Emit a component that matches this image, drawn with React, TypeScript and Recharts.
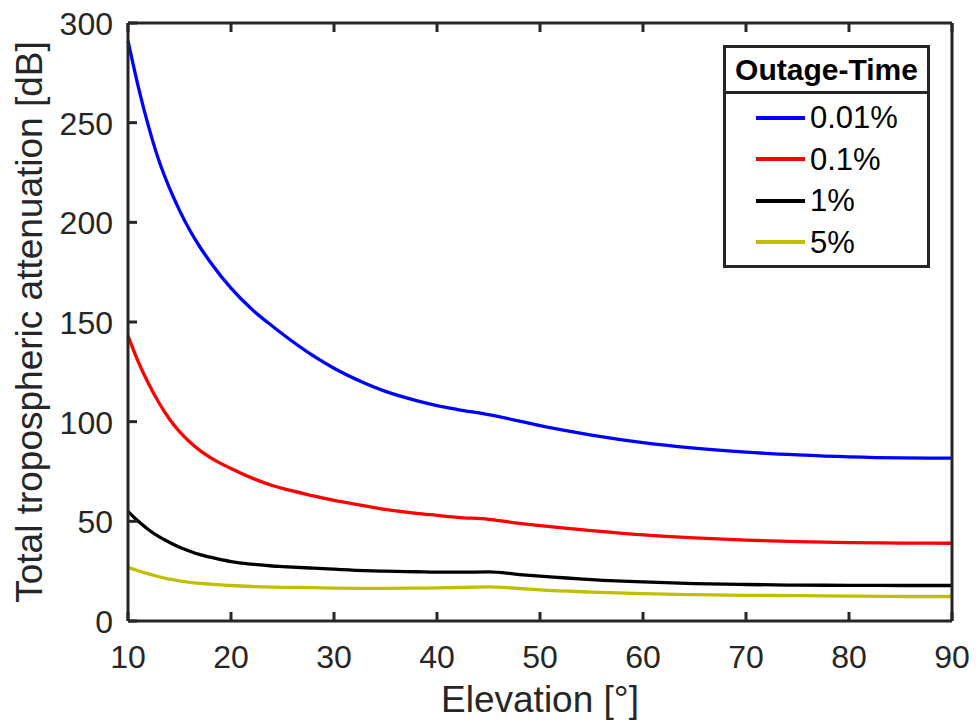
import { LineChart, Line, XAxis, YAxis, Legend } from 'recharts'

const FONT = '"Liberation Sans", Arial, Helvetica, sans-serif'
const AXIS = '#262626'

// elevation angles [deg]
const elevation = [10, 11, 12, 13, 14, 15, 16, 17, 18, 20, 22, 24, 25, 28, 30, 33, 35, 38, 40, 42, 45, 48, 50, 55, 60, 65, 70, 75, 80, 85, 90]

// total tropospheric attenuation [dB] per outage time
const outage001 = [291, 268, 248, 231, 217.5, 206, 196, 187.5, 180, 167, 156.5, 148, 144, 133, 126.8, 119.3, 115.2, 110.6, 108.1, 106.1, 103.5, 100.3, 98, 93.3, 89.5, 86.7, 84.7, 83.3, 82.3, 81.8, 81.7]
const outage01 = [143, 130, 119, 109.5, 101.5, 95, 89.8, 85.5, 82, 76.5, 71.8, 68, 66.5, 62.8, 60.5, 57.8, 56, 54, 53, 52, 51, 49, 47.8, 45.3, 43.2, 41.7, 40.6, 39.8, 39.3, 39.1, 39]
const outage1 = [55, 50, 45.8, 42.3, 39.5, 37, 35, 33.3, 32, 29.8, 28.5, 27.6, 27.3, 26.5, 26, 25.3, 25, 24.7, 24.5, 24.5, 24.6, 23.3, 22.5, 20.8, 19.6, 18.8, 18.3, 18, 17.9, 17.8, 17.8]
const outage5 = [27, 25.2, 23.6, 22.2, 21, 20.1, 19.4, 18.9, 18.5, 17.8, 17.3, 17, 16.9, 16.7, 16.5, 16.4, 16.4, 16.5, 16.6, 16.8, 17.1, 16.3, 15.6, 14.5, 13.7, 13.2, 12.9, 12.7, 12.5, 12.3, 12.3]

const xTicks = [10, 20, 30, 40, 50, 60, 70, 80, 90]
const yTicks = [0, 50, 100, 150, 200, 250, 300]

const series = [
  { key: 'p001', name: '0.01%', color: '#0000ff' },
  { key: 'p01', name: '0.1%', color: '#ff0000' },
  { key: 'p1', name: '1%', color: '#000000' },
  { key: 'p5', name: '5%', color: '#bfbf00' },
]

const data = elevation.map((e, i) => ({
  elev: e,
  p001: outage001[i],
  p01: outage01[i],
  p1: outage1[i],
  p5: outage5[i],
}))

const TICK_LEN = 9

function BottomTick({ x, y, payload }: any) {
  return (
    <g>
      <line x1={x} y1={y} x2={x} y2={y - TICK_LEN} stroke={AXIS} strokeWidth={3} />
      <text x={x} y={y + 47} textAnchor="middle" fontSize={32} fill={AXIS} fontFamily={FONT}>
        {payload.value}
      </text>
    </g>
  )
}

function TopTick({ x, y }: any) {
  return <line x1={x} y1={y} x2={x} y2={y + TICK_LEN} stroke={AXIS} strokeWidth={3} />
}

function LeftTick({ x, y, payload }: any) {
  return (
    <g>
      <line x1={x} y1={y} x2={x + TICK_LEN} y2={y} stroke={AXIS} strokeWidth={3} />
      <text x={x - 15} y={y + 12} textAnchor="end" fontSize={32} fill={AXIS} fontFamily={FONT}>
        {payload.value}
      </text>
    </g>
  )
}

function RightTick({ x, y }: any) {
  return <line x1={x} y1={y} x2={x - TICK_LEN} y2={y} stroke={AXIS} strokeWidth={3} />
}

function OutageLegend({ payload }: any) {
  return (
    <div
      style={{
        boxSizing: 'border-box',
        width: 207,
        height: 223,
        border: `3px solid ${AXIS}`,
        background: '#fff',
        fontFamily: FONT,
        color: '#000',
      }}
    >
      <div
        style={{
          height: 43,
          lineHeight: '43px',
          borderBottom: `3px solid ${AXIS}`,
          textAlign: 'center',
          fontWeight: 'bold',
          fontSize: 30,
        }}
      >
        Outage-Time
      </div>
      <div style={{ paddingTop: 3 }}>
        {(payload || []).map((p: any) => (
          <div key={p.value} style={{ display: 'flex', alignItems: 'center', height: 41.5 }}>
            <div style={{ marginLeft: 30, width: 49, height: 4, background: p.color }} />
            <span style={{ marginLeft: 5, fontSize: 31, lineHeight: 1 }}>{p.value}</span>
          </div>
        ))}
      </div>
    </div>
  )
}

export default function App() {
  return (
    <div style={{ position: 'absolute', left: 0, top: 0, width: 976, height: 724, background: '#fff' }}>
      <LineChart
        width={976}
        height={724}
        data={data}
        margin={{ top: 13, right: 14, left: 0, bottom: 0 }}
        style={{ fontFamily: FONT }}
      >
        <XAxis
          xAxisId="bottom"
          type="number"
          dataKey="elev"
          domain={[10, 90]}
          ticks={xTicks}
          interval={0}
          height={103}
          tickSize={0}
          tickMargin={0}
          tickLine={false}
          tick={<BottomTick />}
          axisLine={{ stroke: AXIS, strokeWidth: 3 }}
          label={{
            value: 'Elevation [°]',
            position: 'insideBottom',
            offset: 12,
            fill: AXIS,
            fontSize: 37,
            fontFamily: FONT,
          }}
        />
        <XAxis
          xAxisId="top"
          orientation="top"
          type="number"
          dataKey="elev"
          domain={[10, 90]}
          ticks={xTicks}
          interval={0}
          height={10}
          tickSize={0}
          tickMargin={0}
          tickLine={false}
          tick={<TopTick />}
          axisLine={{ stroke: AXIS, strokeWidth: 3 }}
        />
        <YAxis
          yAxisId="left"
          type="number"
          domain={[0, 300]}
          ticks={yTicks}
          interval={0}
          width={128}
          tickSize={0}
          tickMargin={0}
          tickLine={false}
          tick={<LeftTick />}
          axisLine={{ stroke: AXIS, strokeWidth: 3 }}
          label={{
            value: 'Total tropospheric attenuation [dB]',
            content: (props: any) => (
              <text
                x={42}
                y={322}
                transform="rotate(-90, 42, 322)"
                textAnchor="middle"
                fontSize={37}
                fill={AXIS}
                fontFamily={FONT}
              >
                {props.value}
              </text>
            ),
          }}
        />
        <YAxis
          yAxisId="right"
          orientation="right"
          type="number"
          domain={[0, 300]}
          ticks={yTicks}
          interval={0}
          width={10}
          tickSize={0}
          tickMargin={0}
          tickLine={false}
          tick={<RightTick />}
          axisLine={{ stroke: AXIS, strokeWidth: 3 }}
        />
        <Legend
          layout="horizontal"
          verticalAlign="middle"
          align="center"
          content={<OutageLegend />}
          wrapperStyle={{ left: 723, top: 45, width: 207, height: 223 }}
        />
        {series.map((s) => (
          <Line
            key={s.key}
            xAxisId="bottom"
            yAxisId="left"
            dataKey={s.key}
            name={s.name}
            stroke={s.color}
            strokeWidth={3.3}
            type="monotone"
            dot={false}
            activeDot={false}
            isAnimationActive={false}
          />
        ))}
      </LineChart>
    </div>
  )
}
